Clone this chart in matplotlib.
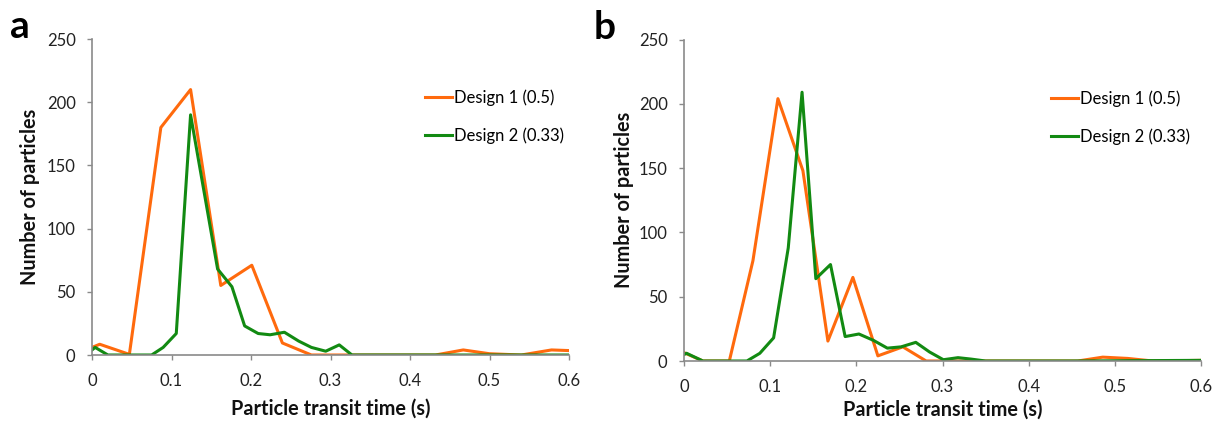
import matplotlib
matplotlib.use("Agg")
import matplotlib.pyplot as plt

plt.rcParams['font.family'] = ['Lato', 'DejaVu Sans']

# panel a
a_t1 = [0, 0.0097, 0.047, 0.0866, 0.124, 0.162, 0.201, 0.2395, 0.276, 0.315, 0.355, 0.393,
        0.432, 0.467, 0.5, 0.54, 0.578, 0.6]
a_v1 = [6, 8.5, 0.5, 180, 210, 55, 71, 9.5, 0, 0, 0, 0, 0, 4, 1, 0, 4, 3.5]
a_t2 = [0, 0.004, 0.02, 0.04, 0.06, 0.075, 0.0895, 0.106, 0.124, 0.158, 0.176, 0.192, 0.209,
        0.224, 0.242, 0.26, 0.276, 0.294, 0.311, 0.327, 0.4, 0.5, 0.6]
a_v2 = [4, 6, 0, 0, 0, 0, 6, 17, 190, 68, 54, 23, 17, 16, 18, 11, 6, 3, 8, 0, 0, 0, 0]

# panel b
b_t1 = [0, 0.022, 0.0526, 0.08, 0.109, 0.138, 0.167, 0.196, 0.225, 0.254, 0.281, 0.31,
        0.4, 0.457, 0.486, 0.515, 0.544, 0.6]
b_v1 = [6.5, 0, 0, 78, 204, 148, 15.5, 65, 4, 11, 0, 0, 0, 0, 3, 2, 0, 0.5]
b_t2 = [0, 0.003, 0.022, 0.05, 0.073, 0.088, 0.104, 0.121, 0.137, 0.153, 0.17, 0.187, 0.203,
        0.22, 0.236, 0.252, 0.269, 0.285, 0.301, 0.318, 0.333, 0.35, 0.45, 0.6]
b_v2 = [5, 6, 0, 0, 0, 6, 18, 88, 209, 64, 75, 19, 21, 16, 10, 11, 14.5, 7, 1, 2.6, 1.5, 0, 0,
        0.5]

labels = ['Design 1 (0.5)', 'Design 2 (0.33)']
x_ticks = [0, 0.1, 0.2, 0.3, 0.4, 0.5, 0.6]
x_ticklabels = ['0', '0.1', '0.2', '0.3', '0.4', '0.5', '0.6']
y_ticks = [0, 50, 100, 150, 200, 250]

orange = '#FF6A0D'
green = '#128A12'
spine_col = '#8A8A8A'

W, H = 1221, 421
fig = plt.figure(figsize=(W / 100, H / 100), dpi=100)
ax_a = fig.add_axes([92 / W, 66 / H, 477 / W, 316 / H])
ax_b = fig.add_axes([684 / W, 60 / H, 517 / W, 321.5 / H])

# (axes, data..., letter, letter x, ylabel x, xlabel y, legend left px, legend top px)
panels = [
    (ax_a, a_t1, a_v1, a_t2, a_v2, 'a', -0.172, -0.129, -0.171, 425, 89),
    (ax_b, b_t1, b_v1, b_t2, b_v2, 'b', -0.174, -0.117, -0.152, 1051, 90),
]

for ax, t1, v1, t2, v2, letter, lx, ylx, xly, leg_x, leg_y in panels:
    ax.plot(t1, v1, color=orange, lw=2.2, label=labels[0])
    ax.plot(t2, v2, color=green, lw=2.2, label=labels[1])
    ax.set_xlim(0, 0.6)
    ax.set_ylim(0, 250)
    ax.set_xticks(x_ticks)
    ax.set_xticklabels(x_ticklabels)
    ax.set_yticks(y_ticks)
    for s in ['top', 'right']:
        ax.spines[s].set_visible(False)
    for s in ['left', 'bottom']:
        ax.spines[s].set_color(spine_col)
        ax.spines[s].set_linewidth(1.2)
    ax.tick_params(axis='both', colors=spine_col, labelcolor='#222222', labelsize=12,
                   length=3.8, width=1.0)
    ax.tick_params(axis='x', pad=9)
    ax.tick_params(axis='y', pad=8)
    ax.text(0.5, xly, 'Particle transit time (s)', transform=ax.transAxes, fontsize=14.3,
            fontweight='bold', ha='center', va='center', color='#111111')
    ax.text(ylx, 0.5, 'Number of particles', transform=ax.transAxes, fontsize=14.3,
            fontweight='bold', ha='center', va='center', rotation=90, color='#111111')
    ax.legend(loc='upper left', bbox_to_anchor=(leg_x / W, 1 - leg_y / H),
              bbox_transform=fig.transFigure, frameon=False, fontsize=12,
              handlelength=1.62, handletextpad=0.1, labelspacing=1.32,
              borderpad=0, borderaxespad=0)
    ax.text(lx, 1.003, letter, transform=ax.transAxes, fontsize=28, fontweight='bold',
            va='baseline', ha='left')

fig.savefig('out.png', dpi=100)
